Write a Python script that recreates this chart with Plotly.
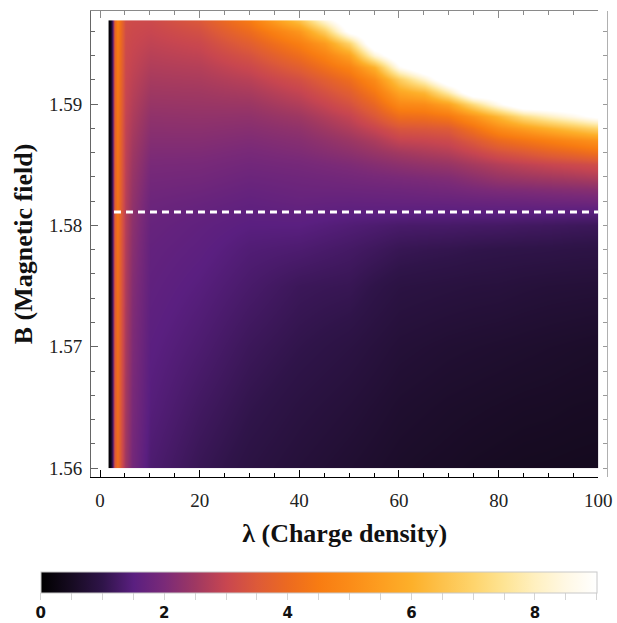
import numpy as np
import plotly.graph_objects as go

# Charge density (columns) and magnetic field (rows) sample positions
lam = [1.67, 2.0, 2.4, 2.8, 3.4, 4.2, 5.0, 6.5, 10, 20, 30, 40, 45, 50, 55, 60, 65, 70, 75, 80, 85, 90, 95, 100]
field = [1.560, 1.565, 1.570, 1.575, 1.578, 1.580, 1.581, 1.582, 1.583, 1.584, 1.585,
         1.586, 1.587, 1.588, 1.589, 1.590, 1.591, 1.592, 1.593, 1.594, 1.595, 1.596, 1.597]

# Values along B (bottom to top) for each charge density column
col_1_67 = [0.05, 0.05, 0.05, 0.05, 0.05, 0.05, 0.05, 0.05, 0.05, 0.05, 0.05, 0.05, 0.05, 0.05, 0.05, 0.05, 0.05, 0.05, 0.05, 0.05, 0.05, 0.05, 0.05]
col_2_0 = [0.3, 0.3, 0.3, 0.3, 0.3, 0.3, 0.3, 0.3, 0.3, 0.3, 0.3, 0.3, 0.3, 0.3, 0.3, 0.3, 0.3, 0.3, 0.3, 0.3, 0.3, 0.3, 0.3]
col_2_4 = [1.2, 1.2, 1.21, 1.22, 1.23, 1.23, 1.24, 1.24, 1.25, 1.25, 1.25, 1.26, 1.26, 1.27, 1.27, 1.28, 1.28, 1.28, 1.29, 1.29, 1.3, 1.3, 1.3]
col_2_8 = [3.4, 3.43, 3.47, 3.51, 3.54, 3.56, 3.57, 3.58, 3.6, 3.61, 3.62, 3.63, 3.65, 3.66, 3.67, 3.69, 3.7, 3.72, 3.73, 3.75, 3.76, 3.78, 3.8]
col_3_4 = [4.1, 4.14, 4.18, 4.22, 4.25, 4.27, 4.28, 4.29, 4.3, 4.32, 4.33, 4.34, 4.36, 4.38, 4.4, 4.42, 4.44, 4.46, 4.48, 4.5, 4.53, 4.56, 4.6]
col_4_2 = [3.2, 3.26, 3.32, 3.38, 3.42, 3.45, 3.47, 3.49, 3.5, 3.52, 3.54, 3.56, 3.58, 3.6, 3.63, 3.66, 3.69, 3.72, 3.75, 3.78, 3.81, 3.85, 3.9]
col_5_0 = [2.5, 2.56, 2.62, 2.68, 2.72, 2.75, 2.77, 2.79, 2.81, 2.83, 2.85, 2.87, 2.89, 2.91, 2.94, 2.97, 3.0, 3.03, 3.06, 3.09, 3.12, 3.16, 3.2]
col_6_5 = [1.9, 1.98, 2.05, 2.13, 2.2, 2.25, 2.28, 2.32, 2.36, 2.4, 2.45, 2.5, 2.56, 2.62, 2.68, 2.74, 2.8, 2.86, 2.92, 2.97, 3.02, 3.07, 3.12]
col_10 = [1.35, 1.45, 1.52, 1.6, 1.65, 1.7, 1.74, 1.79, 1.85, 1.91, 1.98, 2.06, 2.14, 2.22, 2.3, 2.4, 2.5, 2.6, 2.7, 2.8, 2.9, 3.0, 3.1]
col_20 = [1.1, 1.22, 1.35, 1.47, 1.55, 1.6, 1.65, 1.72, 1.8, 1.88, 1.96, 2.05, 2.14, 2.23, 2.32, 2.42, 2.52, 2.64, 2.76, 2.9, 3.05, 3.25, 3.5]
col_30 = [0.92, 1.03, 1.15, 1.3, 1.4, 1.5, 1.56, 1.63, 1.7, 1.78, 1.87, 1.97, 2.07, 2.18, 2.3, 2.45, 2.62, 2.82, 3.05, 3.32, 3.65, 4.05, 4.5]
col_40 = [0.8, 0.9, 1.02, 1.15, 1.35, 1.5, 1.59, 1.69, 1.76, 1.83, 1.93, 2.06, 2.17, 2.31, 2.49, 2.72, 2.95, 3.25, 3.65, 4.1, 4.6, 5.3, 6.6]
col_45 = [0.75, 0.85, 0.97, 1.12, 1.3, 1.45, 1.56, 1.67, 1.77, 1.86, 1.99, 2.15, 2.3, 2.5, 2.71, 2.98, 3.28, 3.65, 4.15, 4.7, 5.4, 6.8, 8.5]
col_50 = [0.7, 0.8, 0.92, 1.1, 1.25, 1.4, 1.53, 1.66, 1.78, 1.9, 2.05, 2.25, 2.45, 2.7, 2.95, 3.3, 3.65, 4.1, 4.7, 5.6, 7.0, 9.3, 10.0]
col_55 = [0.65, 0.74, 0.85, 1.0, 1.18, 1.35, 1.53, 1.67, 1.8, 1.95, 2.15, 2.4, 2.65, 3.0, 3.45, 3.9, 4.4, 5.0, 6.0, 8.3, 10.0, 10.0, 10.0]
col_60 = [0.6, 0.68, 0.78, 0.92, 1.1, 1.3, 1.52, 1.68, 1.82, 2.0, 2.25, 2.55, 2.95, 3.4, 4.1, 4.9, 5.7, 6.8, 8.8, 10.0, 10.0, 10.0, 10.0]
col_65 = [0.57, 0.65, 0.75, 0.9, 1.07, 1.29, 1.51, 1.69, 1.86, 2.05, 2.33, 2.65, 3.0, 3.45, 4.15, 5.0, 6.2, 8.2, 10.0, 10.0, 10.0, 10.0, 10.0]
col_70 = [0.55, 0.62, 0.72, 0.88, 1.05, 1.28, 1.5, 1.7, 1.9, 2.1, 2.4, 2.75, 3.1, 3.55, 4.4, 5.6, 7.8, 10.0, 10.0, 10.0, 10.0, 10.0, 10.0]
col_75 = [0.52, 0.6, 0.7, 0.86, 1.02, 1.26, 1.5, 1.73, 1.98, 2.25, 2.58, 3.0, 3.5, 4.2, 5.2, 7.2, 10.0, 10.0, 10.0, 10.0, 10.0, 10.0, 10.0]
col_80 = [0.5, 0.58, 0.68, 0.85, 1.0, 1.25, 1.5, 1.75, 2.05, 2.4, 2.75, 3.3, 4.0, 5.0, 6.2, 8.7, 10.0, 10.0, 10.0, 10.0, 10.0, 10.0, 10.0]
col_85 = [0.48, 0.56, 0.66, 0.82, 0.99, 1.22, 1.49, 1.77, 2.08, 2.48, 2.88, 3.5, 4.3, 5.5, 7.3, 10.0, 10.0, 10.0, 10.0, 10.0, 10.0, 10.0, 10.0]
col_90 = [0.47, 0.55, 0.64, 0.8, 0.98, 1.2, 1.48, 1.8, 2.12, 2.55, 3.0, 3.75, 4.6, 6.0, 8.0, 10.0, 10.0, 10.0, 10.0, 10.0, 10.0, 10.0, 10.0]
col_95 = [0.46, 0.53, 0.62, 0.79, 0.96, 1.17, 1.46, 1.82, 2.16, 2.62, 3.1, 3.95, 4.9, 6.5, 8.6, 10.0, 10.0, 10.0, 10.0, 10.0, 10.0, 10.0, 10.0]
col_100 = [0.45, 0.52, 0.6, 0.78, 0.95, 1.15, 1.45, 1.85, 2.2, 2.7, 3.2, 4.2, 5.2, 7.0, 9.3, 10.0, 10.0, 10.0, 10.0, 10.0, 10.0, 10.0, 10.0]

# Critical field line
crit_lam = [2.8, 100]
crit_B = [1.5811, 1.5811]

# Axis ticks
x_ticks = [0, 20, 40, 60, 80, 100]
y_ticks = [1.56, 1.57, 1.58, 1.59]
y_tick_text = ["1.56", "1.57", "1.58", "1.59"]
cb_tick_vals = [0, 0.5, 1, 1.5, 2, 2.5, 3, 3.5, 4, 4.5, 5, 5.5, 6, 6.5, 7, 7.5, 8, 8.5, 9]
cb_tick_text = ["0", "", "", "", "2", "", "", "", "4", "", "", "", "6", "", "", "", "8", "", ""]

z = np.column_stack([col_1_67, col_2_0, col_2_4, col_2_8, col_3_4, col_4_2, col_5_0, col_6_5,
                     col_10, col_20, col_30, col_40, col_45, col_50, col_55, col_60, col_65,
                     col_70, col_75, col_80, col_85, col_90, col_95, col_100])

sunset = [
    [0.000, "#000000"], [0.056, "#170b22"], [0.111, "#2f1449"], [0.167, "#5a1f80"],
    [0.222, "#7a2a78"], [0.278, "#9f3862"], [0.333, "#c84650"], [0.389, "#dd5a38"],
    [0.444, "#ec6a20"], [0.500, "#f87c12"], [0.556, "#fb8c18"], [0.611, "#fd9e20"],
    [0.667, "#fdb02a"], [0.722, "#fdc24c"], [0.778, "#fed46c"], [0.833, "#fee494"],
    [0.889, "#fff0c0"], [0.944, "#fff8e4"], [1.000, "#ffffff"],
]

W, H = 617, 623
ML, MR, MT, MB = 91, 10, 11, 146
PW, PH = W - ML - MR, H - MT - MB

# frame axes ranges, and the extent of the sampled region inside the frame
fx = [-1.81, 100.0]
fy = [1.55928, 1.59766]
x_frame_end = (598.3 - ML) / PW
hx = [lam[0], 100.0]
hy = [1.56, 1.5969]
x_dom = [x_frame_end * (hx[0] - fx[0]) / (fx[1] - fx[0]), x_frame_end * (hx[1] - fx[0]) / (fx[1] - fx[0])]
y_dom = [(hy[0] - fy[0]) / (fy[1] - fy[0]), (hy[1] - fy[0]) / (fy[1] - fy[0])]

fig = go.Figure()
fig.add_trace(go.Heatmap(
    x=lam, y=field, z=z, zmin=0, zmax=9, zsmooth="best", colorscale=sunset,
    xaxis="x", yaxis="y",
    colorbar=dict(
        orientation="h",
        x=(318.7 - ML) / PW, xanchor="center", y=(MT + PH - 571.7) / PH, yanchor="top",
        len=556, lenmode="pixels", thickness=20.5, xpad=0, ypad=0,
        outlinewidth=1, outlinecolor="#c8c8c8",
        ticks="outside", ticklen=7, tickcolor="#d4d4d4",
        tickvals=cb_tick_vals, ticktext=cb_tick_text,
        tickfont=dict(family="DejaVu Sans", size=15, color="#111111", weight="bold"),
    ),
))
fig.add_trace(go.Scatter(
    x=crit_lam, y=crit_B, mode="lines", xaxis="x2", yaxis="y2",
    line=dict(color="white", width=3, dash="7px,5px"), showlegend=False, hoverinfo="skip",
))

tick_font = dict(family="Liberation Serif", size=19, color="#222222")
title_font = dict(family="Liberation Serif", size=26, color="#111111", weight="bold")

fig.update_layout(
    width=W, height=H, margin=dict(l=ML, r=MR, t=MT, b=MB, autoexpand=False),
    paper_bgcolor="white", plot_bgcolor="rgba(0,0,0,0)", showlegend=False,
    xaxis=dict(domain=x_dom, range=hx, visible=False, anchor="y"),
    yaxis=dict(domain=y_dom, range=hy, visible=False, anchor="x"),
    xaxis2=dict(
        domain=[0, x_frame_end], range=fx, anchor="y2", showgrid=False, zeroline=False,
        showline=True, linecolor="#000000", linewidth=1,
        ticks="inside", ticklen=7, tickcolor="#000000", tickvals=x_ticks,
        minor=dict(dtick=5, tick0=0, ticks="inside", ticklen=4, tickcolor="#000000"),
        tickfont=tick_font, ticklabelstandoff=6,
        title=dict(text="λ (Charge density)", font=title_font, standoff=14),
    ),
    yaxis2=dict(
        domain=[0, 1], range=fy, anchor="x2", showgrid=False, zeroline=False,
        showline=True, linecolor="#666666", linewidth=1,
        ticks="inside", ticklen=7, tickcolor="#666666", tickvals=y_ticks, ticktext=y_tick_text,
        minor=dict(dtick=0.002, tick0=1.56, ticks="inside", ticklen=4, tickcolor="#666666"),
        tickfont=tick_font, ticklabelstandoff=4,
        title=dict(text="B (Magnetic field)", font=title_font, standoff=8),
    ),
    xaxis3=dict(
        overlaying="x2", side="top", anchor="y2", range=fx, showgrid=False, zeroline=False,
        showline=True, linecolor="#8a8a8a", linewidth=1,
        ticks="inside", ticklen=7, tickcolor="#8a8a8a", tickvals=x_ticks, showticklabels=False,
        minor=dict(dtick=5, tick0=0, ticks="inside", ticklen=4, tickcolor="#8a8a8a"),
    ),
    yaxis3=dict(
        overlaying="y2", side="right", anchor="free", position=1.0, range=fy,
        showgrid=False, zeroline=False, showline=True, linecolor="#b0b0b0", linewidth=1,
        ticks="inside", ticklen=4, tickcolor="#9a9a9a", tickvals=y_ticks, showticklabels=False,
        minor=dict(dtick=0.002, tick0=1.56, ticks="inside", ticklen=4, tickcolor="#9a9a9a"),
    ),
)

# keep the overlay axes alive with invisible traces
fig.add_trace(go.Scatter(x=[None], y=[None], xaxis="x3", yaxis="y2", showlegend=False))
fig.add_trace(go.Scatter(x=[None], y=[None], xaxis="x2", yaxis="y3", showlegend=False))

fig.write_html("out.html")
